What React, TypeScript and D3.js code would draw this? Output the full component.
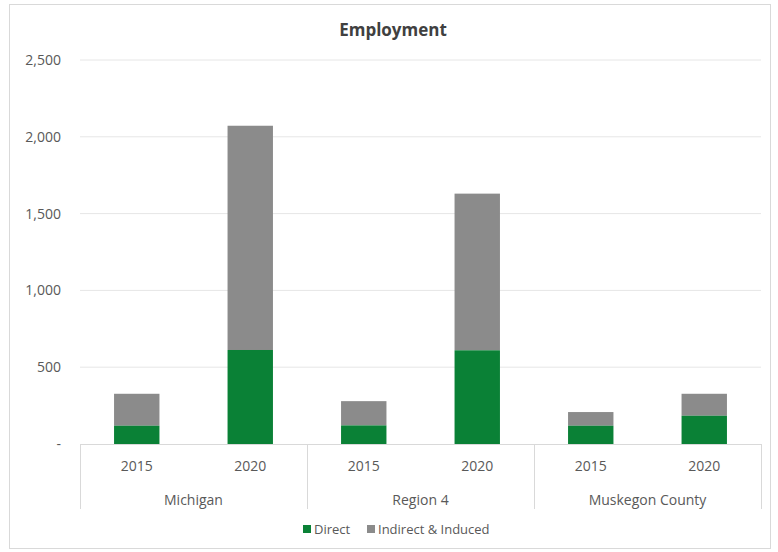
import React from "react";
import * as d3 from "d3";

const groups = ["Michigan", "Region 4", "Muskegon County"];
const years = ["2015", "2020"];
const direct = [119, 612, 121, 610, 119, 184];
const indirect = [208, 1460, 158, 1020, 89, 143];
const yTicks = [0, 500, 1000, 1500, 2000, 2500];
const seriesNames = ["Direct", "Indirect & Induced"];
const colors = ["#0A8136", "#8B8B8B"];

export default function App() {
  const W = 778, H = 552;
  const left = 80, right = 761, top = 60, bottom = 444;
  const cats = groups.flatMap((g) => years.map((y) => g + "|" + y));
  const x = d3.scaleBand<string>().domain(cats).range([left, right]).paddingInner(0.6).paddingOuter(0.3);
  const step = (right - left) / cats.length;
  const xb = d3.scaleBand<string>().domain(cats).range([left, right]).padding(0);
  const y = d3.scaleLinear().domain([0, 2500]).range([bottom, top]);
  const font = "'Open Sans', 'Noto Sans', sans-serif";
  const fmt = (v: number) => (v === 0 ? "-" : d3.format(",")(v));
  const rows = cats.map((c, i) => ({ c, d: direct[i], ind: indirect[i] }));
  const groupW = step * years.length;
  return (
    <svg width={W} height={H} style={{ position: "absolute", left: 0, top: 0 }} fontFamily={font}>
      <rect x={0} y={0} width={W} height={H} fill="#fff" />
      <rect x={9.5} y={4.5} width={761} height={544} fill="#fff" stroke="#d9d9d9" />
      <text x={393} y={36} textAnchor="middle" fontSize={17} fontWeight="bold" fill="#404040">Employment</text>
      {yTicks.map((t) => (
        <g key={t}>
          {t > 0 && <line x1={left} x2={right} y1={y(t)} y2={y(t)} stroke="#e6e6e6" />}
          <text x={61} y={y(t) + 5} textAnchor="end" fontSize={14} fill="#595959">{fmt(t)}</text>
        </g>
      ))}
      {rows.map((r) => (
        <g key={r.c}>
          <rect x={x(r.c)} width={x.bandwidth()} y={y(r.d + r.ind)} height={y(r.d) - y(r.d + r.ind)} fill={colors[1]} />
          <rect x={x(r.c)} width={x.bandwidth()} y={y(r.d)} height={y(0) - y(r.d)} fill={colors[0]} />
          <text x={(xb(r.c) as number) + xb.bandwidth() / 2} y={471} textAnchor="middle" fontSize={14} fill="#595959">{r.c.split("|")[1]}</text>
        </g>
      ))}
      <line x1={left} x2={right} y1={bottom + 0.5} y2={bottom + 0.5} stroke="#d9d9d9" />
      {d3.range(groups.length + 1).map((i) => (
        <line key={i} x1={left + i * groupW + 0.5} x2={left + i * groupW + 0.5} y1={bottom} y2={509} stroke="#d9d9d9" />
      ))}
      {groups.map((g, i) => (
        <text key={g} x={left + i * groupW + groupW / 2} y={505} textAnchor="middle" fontSize={14} fill="#595959">{g}</text>
      ))}
      <g>
        <rect x={303} y={525} width={8} height={8} fill={colors[0]} />
        <text x={314} y={534} fontSize={13} fill="#595959">{seriesNames[0]}</text>
        <rect x={367} y={525} width={8} height={8} fill={colors[1]} />
        <text x={378} y={534} fontSize={13} fill="#595959">{seriesNames[1]}</text>
      </g>
    </svg>
  );
}
